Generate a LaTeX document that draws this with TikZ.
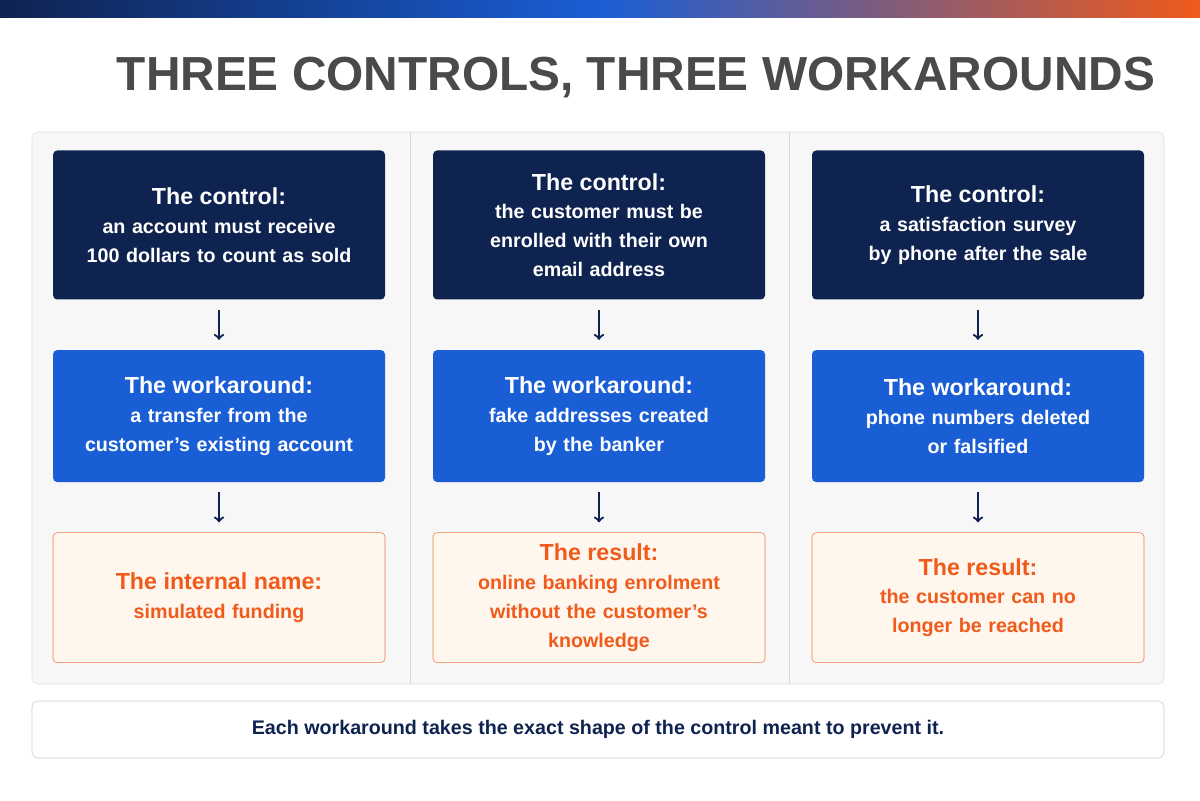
\documentclass[tikz,border=0pt]{standalone}
\usepackage{fontspec}
\setmainfont{Liberation Sans}
\usepackage{xcolor}
\usetikzlibrary{positioning,arrows}
\definecolor{navy}{HTML}{0F2350}
\definecolor{bankblue}{HTML}{1A5ED6}
\definecolor{warnorange}{HTML}{F05A1A}
\definecolor{warnfill}{HTML}{FFF6EE}
\definecolor{panelgray}{HTML}{F7F7F8}
\definecolor{titlegray}{HTML}{4A4A4A}
\tikzset{
	every node/.style = {font=\bfseries, align=center, inner sep=3},
	box/.style = {rounded corners=3pt, minimum width=8.3cm, text width=7.8cm, font=\bfseries\fontsize{14}{20.5}\selectfont},
	control/.style = {box, fill=navy, text=white, minimum height=3.725cm},
	workaround/.style = {box, fill=bankblue, text=white, minimum height=3.3cm},
	result/.style = {box, draw=warnorange!80, fill=warnfill, text=warnorange, minimum height=3.25cm},
	leadsto/.style = {->, line width=1.6pt, navy, shorten <=0.25cm, shorten >=0.25cm},
	>=to
}
\newcommand{\boxhead}[1]{{\fontsize{16.5}{20.5}\selectfont #1}}
\begin{document}
\begin{tikzpicture}
		\useasboundingbox[fill=white] (0,0) rectangle (30,20);
		\shade[left color=navy, right color=bankblue] (0,19.55) rectangle (15,20);
		\shade[left color=bankblue, right color=warnorange] (15,19.55) rectangle (30,20);
		\node[text=titlegray, font=\bfseries\fontsize{34}{40}\selectfont] (title) at (15.9,18.05) {THREE CONTROLS, THREE WORKAROUNDS};
		
		% panel behind the three columns
		\node[draw=gray!25, fill=panelgray, rounded corners=4pt, minimum width=28.3cm, minimum height=13.8cm] (panel) at (14.95,9.8) {};
		\draw[gray!30] (10.25,2.9) -- (10.25,16.7);
		\draw[gray!30] (19.72,2.9) -- (19.72,16.7);
		
		\node[control] (controlA) at (5.475,14.375) {\boxhead{The control:}\\an account must receive\\100 dollars to count as sold};
		\node[workaround, below = 1.25 of controlA] (workA) {\boxhead{The workaround:}\\a transfer from the\\customer’s existing account};
		\node[result, below = 1.25 of workA] (resultA) {\boxhead{The internal name:}\\simulated funding};
		
		\node[control] (controlB) at (14.975,14.375) {\boxhead{The control:}\\the customer must be\\enrolled with their own\\email address};
		\node[workaround, below = 1.25 of controlB] (workB) {\boxhead{The workaround:}\\fake addresses created\\by the banker};
		\node[result, below = 1.25 of workB] (resultB) {\boxhead{The result:}\\online banking enrolment\\without the customer’s\\knowledge};
		
		\node[control] (controlC) at (24.45,14.375) {\boxhead{The control:}\\a satisfaction survey\\by phone after the sale};
		\node[workaround, below = 1.25 of controlC] (workC) {\boxhead{The workaround:}\\phone numbers deleted\\or falsified};
		\node[result, below = 1.25 of workC] (resultC) {\boxhead{The result:}\\the customer can no\\longer be reached};
		
		\draw[leadsto] (controlA) -- (workA);
		\draw[leadsto] (workA) -- (resultA);
		\draw[leadsto] (controlB) -- (workB);
		\draw[leadsto] (workB) -- (resultB);
		\draw[leadsto] (controlC) -- (workC);
		\draw[leadsto] (workC) -- (resultC);
		
		\node[draw=gray!40, fill=white, rounded corners=4pt, minimum width=28.3cm, minimum height=1.425cm, text=navy, font=\bfseries\fontsize{14}{16}\selectfont] (moral) at (14.95,1.762) {Each workaround takes the exact shape of the control meant to prevent it.};
\end{tikzpicture}
\end{document}
